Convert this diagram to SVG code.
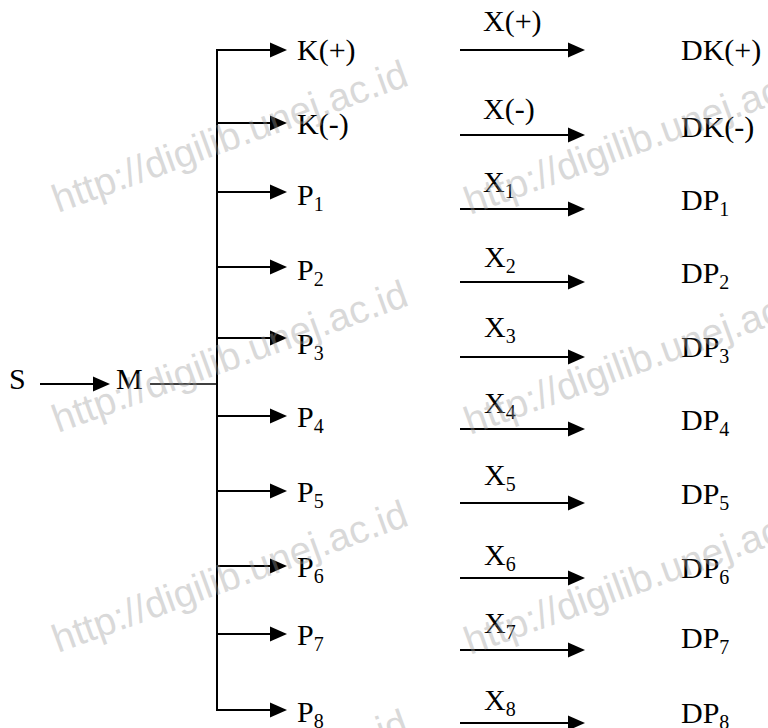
<svg xmlns="http://www.w3.org/2000/svg" width="768" height="728" viewBox="0 0 768 728">
<style>
.t{font-family:"Liberation Serif","Times New Roman",serif;font-size:30px;fill:#000}
.s{font-size:20px}
.ln{stroke:#000;stroke-width:2;fill:none}
.wm{font-family:"Liberation Sans",Arial,sans-serif;font-size:39px;fill:#9c9c9c;opacity:0.38}
</style>
<defs>
<marker id="ah" markerUnits="userSpaceOnUse" markerWidth="17" markerHeight="15" refX="9" refY="7.5" orient="auto" overflow="visible">
<path d="M0,0 L17,7.5 L0,15 z" fill="#000"/>
</marker>
</defs>
<rect width="768" height="728" fill="#fff"/>

<g id="connectors">
<line class="ln" x1="40" y1="384" x2="102" y2="384" marker-end="url(#ah)"/>
<line x1="150" y1="384" x2="217" y2="384" stroke="#000" stroke-width="1.4"/>
<line class="ln" x1="217" y1="49" x2="217" y2="711"/>
<line class="ln" x1="216" y1="50" x2="279" y2="50" marker-end="url(#ah)"/>
<line class="ln" x1="216" y1="123" x2="279" y2="123" marker-end="url(#ah)"/>
<line class="ln" x1="216" y1="192" x2="279" y2="192" marker-end="url(#ah)"/>
<line class="ln" x1="216" y1="267" x2="279" y2="267" marker-end="url(#ah)"/>
<line class="ln" x1="216" y1="338" x2="279" y2="338" marker-end="url(#ah)"/>
<line class="ln" x1="216" y1="416" x2="279" y2="416" marker-end="url(#ah)"/>
<line class="ln" x1="216" y1="491" x2="279" y2="491" marker-end="url(#ah)"/>
<line class="ln" x1="216" y1="566" x2="279" y2="566" marker-end="url(#ah)"/>
<line class="ln" x1="216" y1="634" x2="279" y2="634" marker-end="url(#ah)"/>
<line class="ln" x1="216" y1="710" x2="279" y2="710" marker-end="url(#ah)"/>
<line class="ln" x1="460" y1="50" x2="577" y2="50" marker-end="url(#ah)"/>
<line class="ln" x1="460" y1="135" x2="577" y2="135" marker-end="url(#ah)"/>
<line class="ln" x1="460" y1="209" x2="577" y2="209" marker-end="url(#ah)"/>
<line class="ln" x1="460" y1="282" x2="577" y2="282" marker-end="url(#ah)"/>
<line class="ln" x1="460" y1="357" x2="577" y2="357" marker-end="url(#ah)"/>
<line class="ln" x1="460" y1="429" x2="577" y2="429" marker-end="url(#ah)"/>
<line class="ln" x1="460" y1="503" x2="577" y2="503" marker-end="url(#ah)"/>
<line class="ln" x1="460" y1="578" x2="577" y2="578" marker-end="url(#ah)"/>
<line class="ln" x1="460" y1="650" x2="577" y2="650" marker-end="url(#ah)"/>
<line class="ln" x1="460" y1="723" x2="577" y2="723" marker-end="url(#ah)"/>
</g>

<g id="S"><text class="t" x="9" y="389">S</text></g>
<g id="M"><text class="t" x="116" y="389">M</text></g>

<g id="Kplus"><text class="t" x="297" y="60">K(+)</text></g>
<g id="Kminus"><text class="t" x="297" y="134">K(-)</text></g>
<g id="P1"><text class="t" x="297" y="205">P<tspan class="s" dy="6">1</tspan></text></g>
<g id="P2"><text class="t" x="297" y="280">P<tspan class="s" dy="6">2</tspan></text></g>
<g id="P3"><text class="t" x="297" y="354">P<tspan class="s" dy="6">3</tspan></text></g>
<g id="P4"><text class="t" x="297" y="427">P<tspan class="s" dy="6">4</tspan></text></g>
<g id="P5"><text class="t" x="297" y="502">P<tspan class="s" dy="6">5</tspan></text></g>
<g id="P6"><text class="t" x="297" y="577">P<tspan class="s" dy="6">6</tspan></text></g>
<g id="P7"><text class="t" x="297" y="645">P<tspan class="s" dy="6">7</tspan></text></g>
<g id="P8"><text class="t" x="297" y="722">P<tspan class="s" dy="6">8</tspan></text></g>

<g id="Xplus"><text class="t" x="483" y="31">X(+)</text></g>
<g id="Xminus"><text class="t" x="483" y="119">X(-)</text></g>
<g id="X1"><text class="t" x="483" y="192">X<tspan class="s" dy="6">1</tspan></text></g>
<g id="X2"><text class="t" x="484" y="267">X<tspan class="s" dy="6">2</tspan></text></g>
<g id="X3"><text class="t" x="484" y="337">X<tspan class="s" dy="6">3</tspan></text></g>
<g id="X4"><text class="t" x="484" y="413">X<tspan class="s" dy="6">4</tspan></text></g>
<g id="X5"><text class="t" x="484" y="485">X<tspan class="s" dy="6">5</tspan></text></g>
<g id="X6"><text class="t" x="484" y="565">X<tspan class="s" dy="6">6</tspan></text></g>
<g id="X7"><text class="t" x="484" y="633">X<tspan class="s" dy="6">7</tspan></text></g>
<g id="X8"><text class="t" x="484" y="710">X<tspan class="s" dy="6">8</tspan></text></g>

<g id="DKplus"><text class="t" x="681" y="60">DK(+)</text></g>
<g id="DKminus"><text class="t" x="681" y="137">DK(-)</text></g>
<g id="DP1"><text class="t" x="681" y="210">DP<tspan class="s" dy="6">1</tspan></text></g>
<g id="DP2"><text class="t" x="681" y="283">DP<tspan class="s" dy="6">2</tspan></text></g>
<g id="DP3"><text class="t" x="681" y="357">DP<tspan class="s" dy="6">3</tspan></text></g>
<g id="DP4"><text class="t" x="681" y="430">DP<tspan class="s" dy="6">4</tspan></text></g>
<g id="DP5"><text class="t" x="681" y="504">DP<tspan class="s" dy="6">5</tspan></text></g>
<g id="DP6"><text class="t" x="681" y="578">DP<tspan class="s" dy="6">6</tspan></text></g>
<g id="DP7"><text class="t" x="681" y="648">DP<tspan class="s" dy="6">7</tspan></text></g>
<g id="DP8"><text class="t" x="681" y="723">DP<tspan class="s" dy="6">8</tspan></text></g>

<g id="watermark">
<text class="wm" x="58" y="213" transform="rotate(-20 58 213)">http://digilib.unej.ac.id</text>
<text class="wm" x="58" y="433" transform="rotate(-20 58 433)">http://digilib.unej.ac.id</text>
<text class="wm" x="58" y="653" transform="rotate(-20 58 653)">http://digilib.unej.ac.id</text>
<text class="wm" x="58" y="862" transform="rotate(-20 58 862)">http://digilib.unej.ac.id</text>
<text class="wm" x="470" y="215" transform="rotate(-20 470 215)">http://digilib.unej.ac.id</text>
<text class="wm" x="470" y="435" transform="rotate(-20 470 435)">http://digilib.unej.ac.id</text>
<text class="wm" x="470" y="655" transform="rotate(-20 470 655)">http://digilib.unej.ac.id</text>
</g>
</svg>
